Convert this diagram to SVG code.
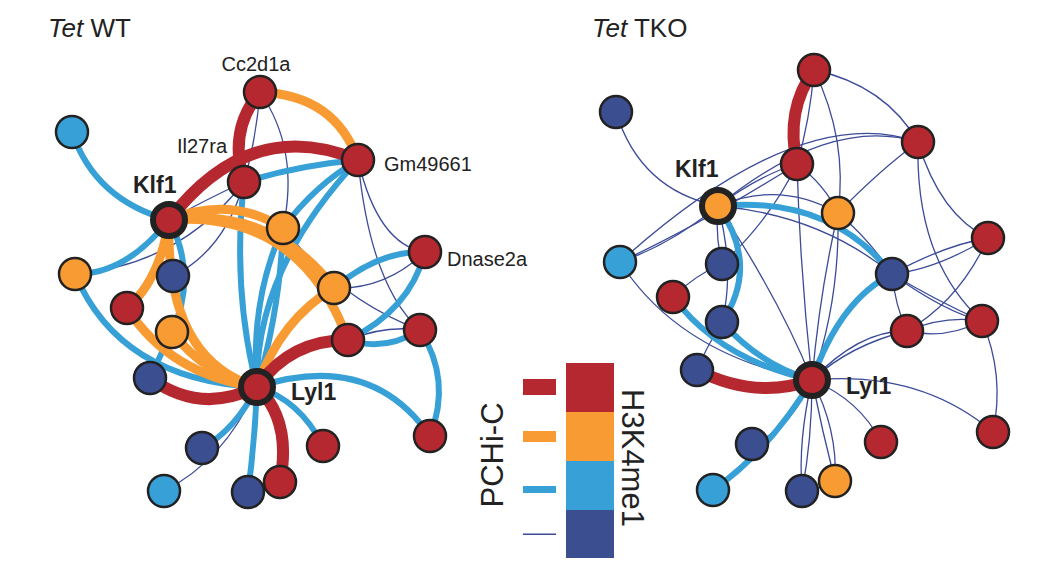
<svg xmlns="http://www.w3.org/2000/svg" width="1059" height="570" viewBox="0 0 1059 570">
<style>
.e{fill:none;stroke-linecap:butt}
.r{stroke:#B5282F;stroke-width:12}
.o{stroke:#F99B33;stroke-width:9}
.b{stroke:#37A0D6;stroke-width:6}
.n{stroke:#3B4B98;stroke-width:1.3}
.nd{stroke:#222;stroke-width:2.5}
.hub{stroke:#222;stroke-width:6}
.cr{fill:#B5282F}.co{fill:#F99B33}.cb{fill:#37A0D6}.cn{fill:#3A4E90}
.lab{font-family:"Liberation Sans",Arial,sans-serif;font-size:20px;fill:#222}
.hl{font-family:"Liberation Sans",Arial,sans-serif;font-size:23px;font-weight:bold;fill:#222}
.ttl{font-family:"Liberation Sans",Arial,sans-serif;font-size:26px;fill:#222}
.leg{font-family:"Liberation Sans",Arial,sans-serif;font-size:31px;fill:#222}
</style>
<rect width="1059" height="570" fill="#fff"/>
<text class="ttl" x="48" y="37"><tspan font-style="italic">Tet</tspan> WT</text>
<text class="ttl" x="592" y="37"><tspan font-style="italic">Tet</tspan> TKO</text>
<g id="connectors">
<!-- WT -->
<path class="e b" d="M72 132 Q95 200 169 220"/>
<path class="e n" d="M260 92 Q256 140 244 182"/>
<path class="e n" d="M260 92 Q300 150 283 228"/>
<path class="e n" d="M358 160 Q378 245 425 252"/>
<path class="e n" d="M358 160 Q370 285 420 330"/>
<path class="e n" d="M169 220 Q205 200 244 182"/>
<path class="e n" d="M75 274 Q180 265 244 182"/>
<path class="e n" d="M173 276 Q225 250 244 182"/>
<path class="e n" d="M164 491 Q225 460 257 387"/>
<path class="e n" d="M334 288 Q385 290 425 252"/>
<path class="e n" d="M348 340 Q385 325 420 330"/>
<path class="e n" d="M283 228 Q340 300 420 330"/>
<path class="e b" d="M244 182 Q300 165 358 160"/>
<path class="e b" d="M358 160 Q315 185 283 228"/>
<path class="e b" d="M244 182 Q232 290 257 387"/>
<path class="e b" d="M358 160 Q255 270 257 387"/>
<path class="e b" d="M283 228 Q280 310 257 387"/>
<path class="e b" d="M283 228 Q250 300 257 387"/>
<path class="e b" d="M169 220 Q125 275 75 274"/>
<path class="e b" d="M169 220 Q198 275 172 332"/>
<path class="e b" d="M172 332 Q158 360 150 378"/>
<path class="e b" d="M75 274 Q120 380 257 387"/>
<path class="e b" d="M202 448 Q235 430 257 387"/>
<path class="e b" d="M248 492 Q255 440 257 387"/>
<path class="e b" d="M323 446 Q300 400 257 387"/>
<path class="e b" d="M257 387 Q370 350 430 436"/>
<path class="e b" d="M420 330 Q452 380 430 436"/>
<path class="e b" d="M334 288 Q380 250 425 252"/>
<path class="e b" d="M348 340 Q410 310 425 252"/>
<path class="e b" d="M348 340 Q385 352 420 330"/>
<path class="e o" d="M260 92 Q335 95 358 160"/>
<path class="e o" d="M169 220 Q230 195 283 228"/>
<path class="e o" d="M169 220 Q270 205 334 288"/>
<path class="e o" d="M169 220 Q300 210 348 340"/>
<path class="e o" d="M169 220 Q160 280 127 308"/>
<path class="e o" d="M169 220 Q165 360 257 387"/>
<path class="e o" d="M127 308 Q170 375 257 387"/>
<path class="e o" d="M172 332 Q205 375 257 387"/>
<path class="e o" d="M257 387 Q280 320 334 288"/>
<path class="e r" d="M260 92 Q228 130 244 182"/>
<path class="e r" d="M169 220 Q250 115 358 160"/>
<path class="e r" d="M150 378 Q200 415 257 387"/>
<path class="e r" d="M280 482 Q292 420 257 387"/>
<path class="e r" d="M257 387 Q290 340 348 340"/>
<!-- TKO -->
<path class="e n" d="M616 112 Q640 190 718 206"/>
<path class="e n" d="M814 70 Q810 120 797 164"/>
<path class="e n" d="M814 70 Q885 85 918 142"/>
<path class="e n" d="M814 70 Q848 140 838 213"/>
<path class="e n" d="M718 206 Q830 115 918 142"/>
<path class="e n" d="M620 262 Q800 100 918 142"/>
<path class="e n" d="M718 206 Q760 175 797 164"/>
<path class="e n" d="M718 206 Q780 180 838 213"/>
<path class="e n" d="M718 206 Q820 215 892 274"/>
<path class="e n" d="M797 164 Q825 185 838 213"/>
<path class="e n" d="M918 142 Q880 170 838 213"/>
<path class="e n" d="M918 142 Q940 215 988 238"/>
<path class="e n" d="M918 142 Q915 260 982 321"/>
<path class="e n" d="M892 274 Q945 245 988 238"/>
<path class="e n" d="M892 274 Q935 270 988 238"/>
<path class="e n" d="M892 274 Q935 300 982 321"/>
<path class="e n" d="M892 274 Q945 312 982 321"/>
<path class="e n" d="M907 331 Q945 315 982 321"/>
<path class="e n" d="M907 331 Q945 340 982 321"/>
<path class="e n" d="M988 238 Q960 300 907 331"/>
<path class="e n" d="M892 274 Q895 305 907 331"/>
<path class="e n" d="M812 380 Q850 345 907 331"/>
<path class="e n" d="M812 380 Q860 330 907 331"/>
<path class="e n" d="M812 380 Q920 370 993 432"/>
<path class="e n" d="M982 321 Q1005 375 993 432"/>
<path class="e n" d="M812 380 Q860 400 881 442"/>
<path class="e n" d="M812 380 Q780 300 718 206"/>
<path class="e n" d="M812 380 Q800 270 797 164"/>
<path class="e n" d="M812 380 Q820 290 838 213"/>
<path class="e n" d="M812 380 Q840 300 838 213"/>
<path class="e n" d="M620 262 Q680 355 812 380"/>
<path class="e n" d="M620 262 Q670 245 718 206"/>
<path class="e n" d="M620 262 Q700 225 797 164"/>
<path class="e n" d="M722 264 Q715 235 718 206"/>
<path class="e n" d="M722 264 Q770 220 797 164"/>
<path class="e n" d="M673 297 Q695 275 722 264"/>
<path class="e n" d="M722 322 Q705 350 697 370"/>
<path class="e n" d="M752 444 Q790 430 812 380"/>
<path class="e n" d="M802 491 Q798 440 812 380"/>
<path class="e n" d="M802 491 Q812 440 812 380"/>
<path class="e n" d="M835 481 Q822 430 812 380"/>
<path class="e n" d="M835 481 Q838 430 812 380"/>
<path class="e n" d="M838 213 Q870 240 892 274"/>
<path class="e n" d="M722 322 Q735 270 718 206"/>
<path class="e b" d="M718 206 Q830 195 892 274"/>
<path class="e b" d="M812 380 Q840 300 892 274"/>
<path class="e b" d="M673 297 Q720 360 812 380"/>
<path class="e b" d="M722 322 Q760 365 812 380"/>
<path class="e b" d="M718 206 Q760 265 722 322"/>
<path class="e b" d="M713 490 Q770 450 812 380"/>
<path class="e r" d="M814 70 Q785 110 797 164"/>
<path class="e r" d="M812 380 Q755 400 697 370"/>
</g>
<!-- WT nodes -->
<g id="wt-n1"><circle class="nd cb" cx="72" cy="132" r="16"/></g>
<g id="wt-cc2d1a"><circle class="nd cr" cx="260" cy="92" r="16"/><text class="lab" x="256" y="71" text-anchor="middle">Cc2d1a</text></g>
<g id="wt-il27ra"><circle class="nd cr" cx="244" cy="182" r="16"/><text class="lab" x="227" y="153" text-anchor="end">Il27ra</text></g>
<g id="wt-gm49661"><circle class="nd cr" cx="358" cy="160" r="16"/><text class="lab" x="384" y="171">Gm49661</text></g>
<g id="wt-o1"><circle class="nd co" cx="283" cy="228" r="16"/></g>
<g id="wt-dnase2a"><circle class="nd cr" cx="425" cy="252" r="16"/><text class="lab" x="447" y="266">Dnase2a</text></g>
<g id="wt-o2"><circle class="nd co" cx="75" cy="274" r="16"/></g>
<g id="wt-n2"><circle class="nd cn" cx="173" cy="276" r="16"/></g>
<g id="wt-r1"><circle class="nd cr" cx="127" cy="308" r="16"/></g>
<g id="wt-o3"><circle class="nd co" cx="334" cy="288" r="16"/></g>
<g id="wt-o4"><circle class="nd co" cx="172" cy="332" r="16"/></g>
<g id="wt-r2"><circle class="nd cr" cx="348" cy="340" r="16"/></g>
<g id="wt-r3"><circle class="nd cr" cx="420" cy="330" r="16"/></g>
<g id="wt-n3"><circle class="nd cn" cx="150" cy="378" r="16"/></g>
<g id="wt-n4"><circle class="nd cn" cx="202" cy="448" r="16"/></g>
<g id="wt-r4"><circle class="nd cr" cx="323" cy="446" r="16"/></g>
<g id="wt-r5"><circle class="nd cr" cx="430" cy="436" r="16"/></g>
<g id="wt-b2"><circle class="nd cb" cx="164" cy="491" r="16"/></g>
<g id="wt-r6"><circle class="nd cr" cx="280" cy="482" r="16"/></g>
<g id="wt-n5"><circle class="nd cn" cx="248" cy="492" r="16"/></g>
<g id="wt-klf1"><circle class="hub cr" cx="169" cy="220" r="16"/><text class="hl" x="133" y="193">Klf1</text></g>
<g id="wt-lyl1"><circle class="hub cr" cx="257" cy="387" r="16"/><text class="hl" x="291" y="400">Lyl1</text></g>
<!-- TKO nodes -->
<g id="tko-n1"><circle class="nd cn" cx="616" cy="112" r="16"/></g>
<g id="tko-r1"><circle class="nd cr" cx="814" cy="70" r="16"/></g>
<g id="tko-r2"><circle class="nd cr" cx="797" cy="164" r="16"/></g>
<g id="tko-r3"><circle class="nd cr" cx="918" cy="142" r="16"/></g>
<g id="tko-o1"><circle class="nd co" cx="838" cy="213" r="16"/></g>
<g id="tko-b1"><circle class="nd cb" cx="620" cy="262" r="16"/></g>
<g id="tko-n2"><circle class="nd cn" cx="722" cy="264" r="16"/></g>
<g id="tko-r4"><circle class="nd cr" cx="988" cy="238" r="16"/></g>
<g id="tko-n3"><circle class="nd cn" cx="892" cy="274" r="16"/></g>
<g id="tko-r5"><circle class="nd cr" cx="673" cy="297" r="16"/></g>
<g id="tko-n4"><circle class="nd cn" cx="722" cy="322" r="16"/></g>
<g id="tko-r6"><circle class="nd cr" cx="907" cy="331" r="16"/></g>
<g id="tko-r7"><circle class="nd cr" cx="982" cy="321" r="16"/></g>
<g id="tko-n5"><circle class="nd cn" cx="697" cy="370" r="16"/></g>
<g id="tko-n6"><circle class="nd cn" cx="752" cy="444" r="16"/></g>
<g id="tko-r8"><circle class="nd cr" cx="881" cy="442" r="16"/></g>
<g id="tko-r9"><circle class="nd cr" cx="993" cy="432" r="16"/></g>
<g id="tko-b2"><circle class="nd cb" cx="713" cy="490" r="16"/></g>
<g id="tko-o2"><circle class="nd co" cx="835" cy="481" r="16"/></g>
<g id="tko-n7"><circle class="nd cn" cx="802" cy="491" r="16"/></g>
<g id="tko-klf1"><circle class="hub co" cx="718" cy="206" r="16"/><text class="hl" x="675" y="177">Klf1</text></g>
<g id="tko-lyl1"><circle class="hub cr" cx="812" cy="380" r="16"/><text class="hl" x="846" y="394">Lyl1</text></g>
<!-- legend -->
<g id="legend">
<rect x="523" y="379" width="33" height="16" fill="#B5282F"/>
<rect x="523" y="431" width="33" height="11" fill="#F99B33"/>
<rect x="523" y="486" width="33" height="7" fill="#37A0D6"/>
<rect x="523" y="533.5" width="33" height="1.5" fill="#3B4B98"/>
<rect x="566" y="363" width="48" height="49" fill="#B5282F"/>
<rect x="566" y="412" width="48" height="49" fill="#F99B33"/>
<rect x="566" y="461" width="48" height="49" fill="#37A0D6"/>
<rect x="566" y="510" width="48" height="48" fill="#3A4E90"/>
<text class="leg" transform="translate(503,455) rotate(-90)" text-anchor="middle">PCHi-C</text>
<text class="leg" transform="translate(622,458) rotate(90)" text-anchor="middle">H3K4me1</text>
</g>
</svg>
